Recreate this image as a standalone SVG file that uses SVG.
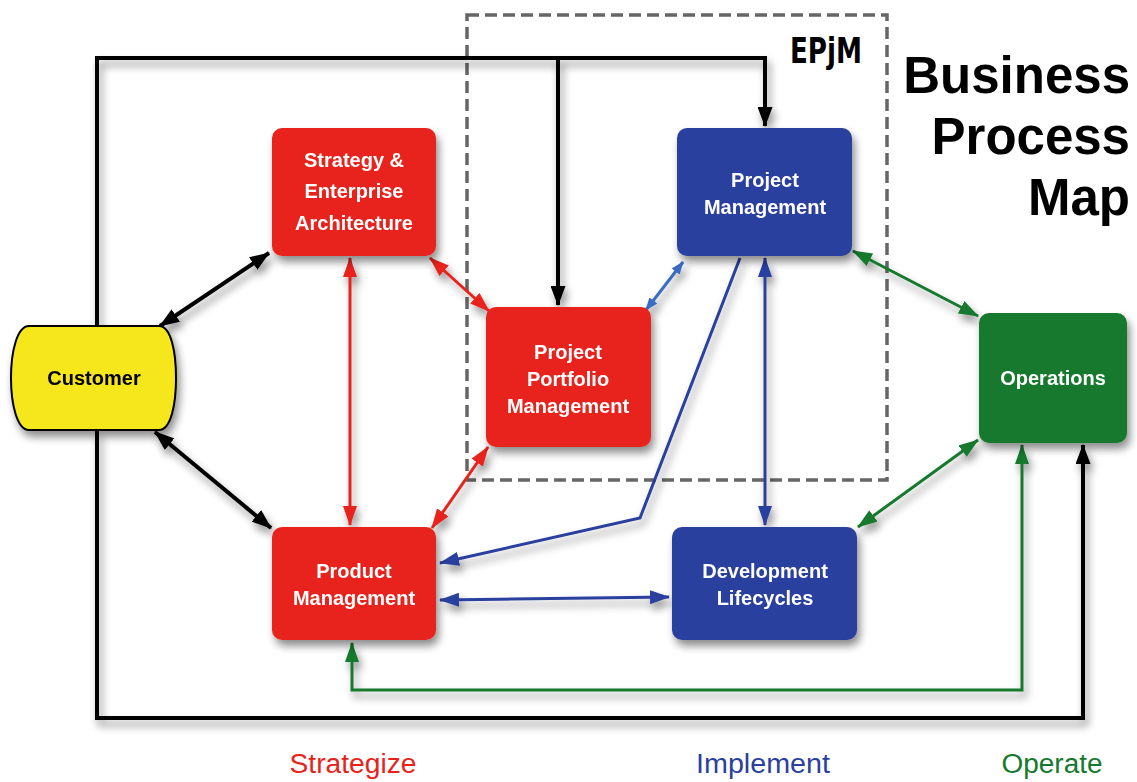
<svg xmlns="http://www.w3.org/2000/svg" width="1137" height="782" viewBox="0 0 1137 782">
<style>
.box{stroke:none}
.red{fill:#e8231b}
.blue{fill:#2b3f9e}
.green{fill:#15792e}
.lbl{font-family:"Liberation Sans",Arial,sans-serif;font-weight:bold;font-size:20px;fill:#fff;text-anchor:middle}
.c{fill:none;stroke-width:3}
.k{stroke:#000;stroke-width:4}
.r{stroke:#e8231b}
.b{stroke:#2b3f9e}
.lb{stroke:#3a6cc4}
.g{stroke:#15792e}
.foot{font-family:"Liberation Sans",Arial,sans-serif;font-size:27px;text-anchor:middle}
</style>
<defs>
<filter id="sh" x="-20%" y="-20%" width="150%" height="150%">
<feGaussianBlur in="SourceAlpha" stdDeviation="4"/>
<feOffset dx="3" dy="6" result="o"/>
<feComponentTransfer><feFuncA type="linear" slope="0.45"/></feComponentTransfer>
<feMerge><feMergeNode/><feMergeNode in="SourceGraphic"/></feMerge>
</filter>
<marker id="ak" viewBox="0 0 20 15" refX="19" refY="7.5" markerWidth="20" markerHeight="15" markerUnits="userSpaceOnUse" orient="auto-start-reverse"><path d="M0,0 L20,7.5 L0,15 Z" fill="#000"/></marker>
<marker id="ar" viewBox="0 0 20 14" refX="19" refY="7" markerWidth="20" markerHeight="14" markerUnits="userSpaceOnUse" orient="auto-start-reverse"><path d="M0,0 L20,7 L0,14 Z" fill="#e8231b"/></marker>
<marker id="ab" viewBox="0 0 20 14" refX="19" refY="7" markerWidth="20" markerHeight="14" markerUnits="userSpaceOnUse" orient="auto-start-reverse"><path d="M0,0 L20,7 L0,14 Z" fill="#2b3f9e"/></marker>
<marker id="alb" viewBox="0 0 13 10" refX="12" refY="5" markerWidth="13" markerHeight="10" markerUnits="userSpaceOnUse" orient="auto-start-reverse"><path d="M0,0 L13,5 L0,10 Z" fill="#3a6cc4"/></marker>
<marker id="ag" viewBox="0 0 20 14" refX="19" refY="7" markerWidth="20" markerHeight="14" markerUnits="userSpaceOnUse" orient="auto-start-reverse"><path d="M0,0 L20,7 L0,14 Z" fill="#15792e"/></marker>
</defs>
<rect width="1137" height="782" fill="#fff"/>

<g id="epjm-frame">
<rect x="467" y="15" width="420" height="465" fill="none" stroke="#666" stroke-width="3.5" stroke-dasharray="12,6"/>
<text x="790" y="63" textLength="72" lengthAdjust="spacingAndGlyphs" font-family="'DejaVu Sans Condensed','DejaVu Sans',sans-serif" font-weight="bold" font-size="35" fill="#000">EPjM</text>
</g>

<g id="title" font-family="'Liberation Sans',Arial,sans-serif" font-weight="bold" font-size="51" text-anchor="end" fill="#000">
<text x="1130" y="93">Business</text>
<text x="1130" y="154">Process</text>
<text x="1130" y="215">Map</text>
</g>

<g id="connectors">
<g filter="url(#sh)">
<path class="c k" d="M97,326 V58 H765 V126" marker-end="url(#ak)"/>
<path class="c k" d="M558,58 V305" marker-end="url(#ak)"/>
<path class="c k" d="M97,431 V718 H1083 V445" marker-end="url(#ak)"/>
<path class="c k" d="M160,326 L269,253" marker-start="url(#ak)" marker-end="url(#ak)"/>
<path class="c k" d="M155,432 L271,528" marker-start="url(#ak)" marker-end="url(#ak)"/>
<path class="c r" d="M350,258 V525" marker-start="url(#ar)" marker-end="url(#ar)"/>
<path class="c r" d="M430,258 L489,311" marker-start="url(#ar)" marker-end="url(#ar)"/>
<path class="c r" d="M488,447 L432,528" marker-start="url(#ar)" marker-end="url(#ar)"/>
<path class="c lb" d="M646,310 L683,262" marker-start="url(#alb)" marker-end="url(#alb)"/>
<path class="c b" d="M740,258 L640,518 L440,563" marker-end="url(#ab)"/>
<path class="c b" d="M765,258 V525" marker-start="url(#ab)" marker-end="url(#ab)"/>
<path class="c b" d="M440,600 L669,597" marker-start="url(#ab)" marker-end="url(#ab)"/>
<path class="c g" d="M853,251 L978,316" marker-start="url(#ag)" marker-end="url(#ag)"/>
<path class="c g" d="M978,440 L858,527" marker-start="url(#ag)" marker-end="url(#ag)"/>
<path class="c g" d="M1022,445 V690 H352 V643" marker-start="url(#ag)" marker-end="url(#ag)"/>
</g>
</g>

<g id="customer" filter="url(#sh)">
<path d="M29,326 H159 C171,326 176,352 176,378 C176,404 171,430 159,430 H29 C17,430 11,404 11,378 C11,352 17,326 29,326 Z" fill="#f6e71a" stroke="#000" stroke-width="2"/>
<text x="94" y="385" font-family="'Liberation Sans',Arial,sans-serif" font-weight="bold" font-size="20" text-anchor="middle" fill="#000">Customer</text>
</g>

<g id="strategy" filter="url(#sh)">
<rect class="box red" x="272" y="128" width="164" height="128" rx="10"/>
<text class="lbl" x="354" y="167">Strategy &amp;</text>
<text class="lbl" x="354" y="198">Enterprise</text>
<text class="lbl" x="354" y="230">Architecture</text>
</g>

<g id="project-management" filter="url(#sh)">
<rect class="box blue" x="677" y="128" width="175" height="128" rx="10"/>
<text class="lbl" x="765" y="187">Project</text>
<text class="lbl" x="765" y="214">Management</text>
</g>

<g id="ppm" filter="url(#sh)">
<rect class="box red" x="486" y="307" width="165" height="140" rx="10"/>
<text class="lbl" x="568" y="359">Project</text>
<text class="lbl" x="568" y="386">Portfolio</text>
<text class="lbl" x="568" y="413">Management</text>
</g>

<g id="operations" filter="url(#sh)">
<rect class="box green" x="979" y="313" width="148" height="130" rx="10"/>
<text class="lbl" x="1053" y="385">Operations</text>
</g>

<g id="product-management" filter="url(#sh)">
<rect class="box red" x="272" y="527" width="164" height="113" rx="10"/>
<text class="lbl" x="354" y="578">Product</text>
<text class="lbl" x="354" y="605">Management</text>
</g>

<g id="development" filter="url(#sh)">
<rect class="box blue" x="672" y="527" width="185" height="113" rx="10"/>
<text class="lbl" x="765" y="578">Development</text>
<text class="lbl" x="765" y="605">Lifecycles</text>
</g>

<g id="footer">
<text class="foot" x="353" y="773" textLength="127" lengthAdjust="spacingAndGlyphs" fill="#e8231b">Strategize</text>
<text class="foot" x="763" y="773" textLength="134" lengthAdjust="spacingAndGlyphs" fill="#2b3f9e">Implement</text>
<text class="foot" x="1052" y="773" textLength="101" lengthAdjust="spacingAndGlyphs" fill="#15792e">Operate</text>
</g>
</svg>
